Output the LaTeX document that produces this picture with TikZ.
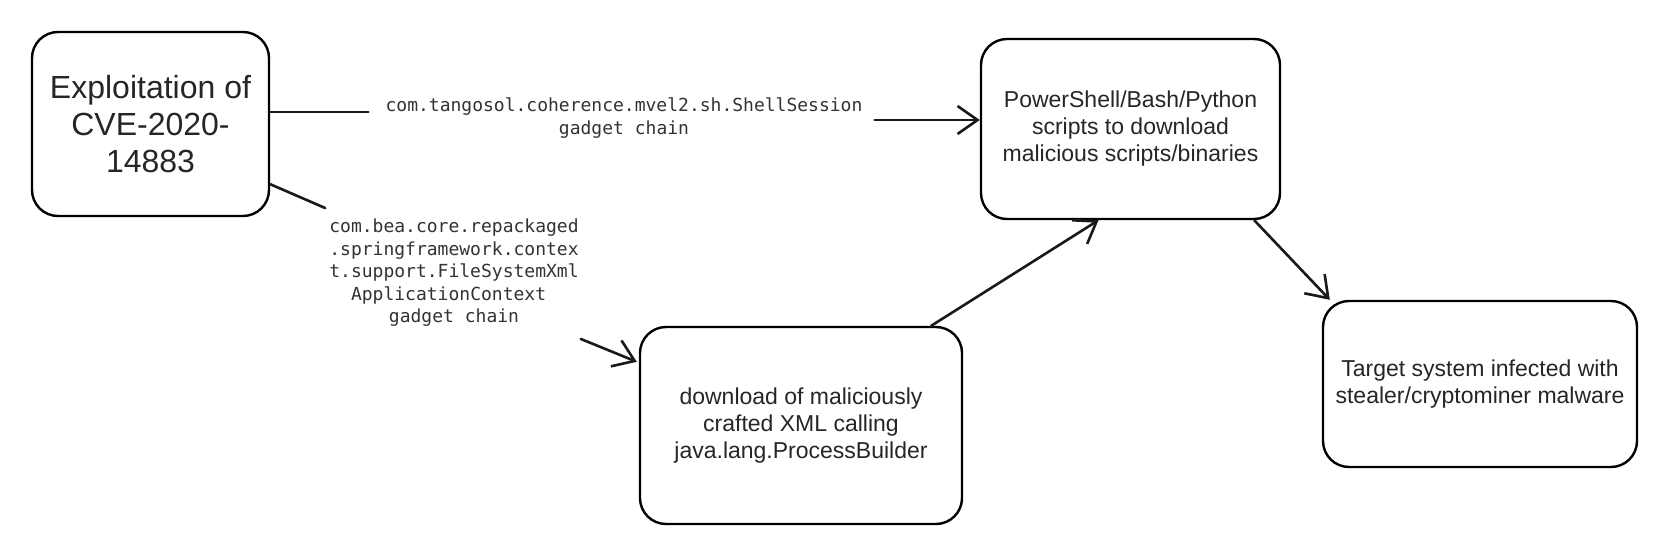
\documentclass[tikz,border=0pt]{standalone}
\usepackage{fontspec}
\setmainfont{Liberation Sans}
\newfontfamily\monof{DejaVu Sans Mono}
\usetikzlibrary{arrows.meta,calc}
\begin{document}
\begin{tikzpicture}[x=1pt,y=-1pt,
  box/.style={draw=black, line width=2.4pt, rounded corners=26pt, align=center, inner sep=0pt, text=black!85},
  conn/.style={draw=black!90, line width=2.6pt, line cap=round, line join=round},
  arr/.style={conn, -{Straight Barb[length=20pt,width=28pt]}},
  lbl/.style={font=\monof\fontsize{18}{22.5}\selectfont, align=center, inner sep=0pt, text=black!80},
  bigtxt/.style={font=\fontsize{32}{37}\selectfont},
  txt/.style={font=\fontsize{23}{27}\selectfont}]
\useasboundingbox[fill=white] (0,0) rectangle (1672,540);

\node[box, bigtxt, minimum width=237pt, minimum height=184pt] (A) at (150.5,124) {Exploitation of\\CVE-2020-\\14883};
\node[box, txt, minimum width=299pt, minimum height=180pt] (B) at (1130.5,129) {PowerShell/Bash/Python\\scripts to download\\malicious scripts/binaries};
\node[box, txt, minimum width=322pt, minimum height=197pt] (C) at (801,425.5) {download of maliciously\\crafted XML calling\\java.lang.ProcessBuilder};
\node[box, txt, minimum width=314pt, minimum height=166pt] (D) at (1480,384) {Target system infected with\\stealer/cryptominer malware};

\node[lbl] (L1) at (624,118) {com.tangosol.coherence.mvel2.sh.ShellSession\\gadget chain};
\node[lbl] (L2) at (454,273) {com.bea.core.repackaged\\.springframework.contex\\t.support.FileSystemXml\\ApplicationContext\hphantom{x}\\gadget chain};

\draw[conn] ([yshift=12pt]A.east) -- ([xshift=-17pt,yshift=6pt]L1.west);
\draw[arr] ([xshift=12pt,yshift=-2pt]L1.east) -- ([yshift=9pt]B.west);

\draw[conn] ([yshift=33pt]A.south east) -- ([shift={(-4pt,11pt)}]L2.north west);
\draw[arr] ([shift={(2pt,-12pt)}]L2.south east) -- ([shift={(-2pt,-36pt)}]C.north west);

\draw[arr] ([xshift=-32pt]C.north east) -- ([xshift=-32pt]B.south);
\draw[arr] ([xshift=-27pt]B.south east) -- ([xshift=8pt]D.north west);
\end{tikzpicture}
\end{document}
